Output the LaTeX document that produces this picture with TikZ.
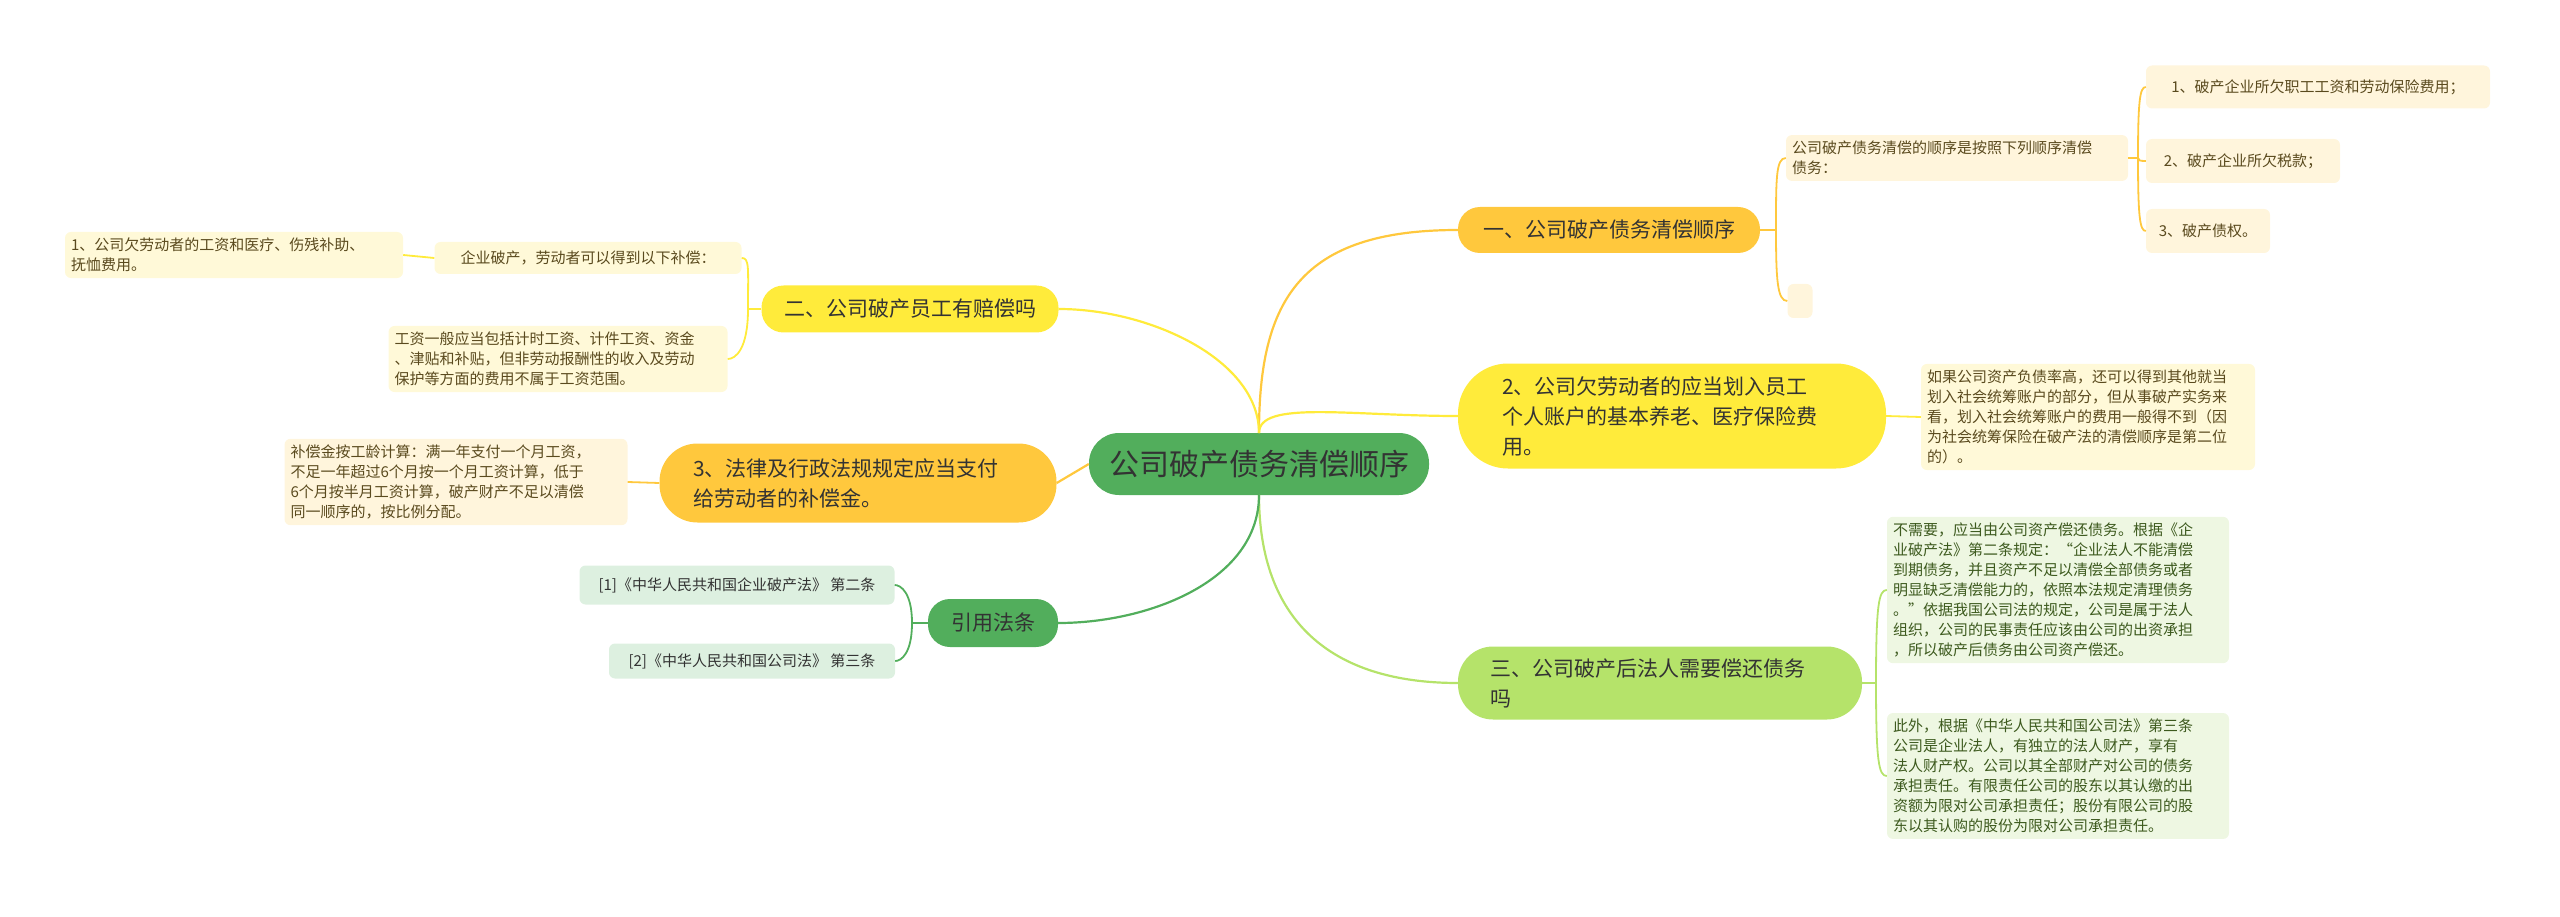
\documentclass[tikz,border=0pt]{standalone}
\usepackage{fontspec}
\setmainfont{Noto Sans CJK SC}
\usetikzlibrary{calc}
\definecolor{cOr}{HTML}{FFC83D}
\definecolor{cYe}{HTML}{FFEB3B}
\definecolor{cLg}{HTML}{B5E36A}
\definecolor{cGr}{HTML}{52AE5C}
\definecolor{fOr}{HTML}{FFF5DC}
\definecolor{fYe}{HTML}{FFF9D8}
\definecolor{fLg}{HTML}{EEF7E2}
\definecolor{fGr}{HTML}{DDF0E0}
\definecolor{tx}{HTML}{333333}
\definecolor{txOr}{HTML}{5A4A1E}
\definecolor{txLg}{HTML}{3D5A1E}
\tikzset{
 mainbox/.style={rounded corners=30pt,fill=cGr,text=tx,font=\fontsize{30}{36}\selectfont,minimum width=340pt,minimum height=62pt,inner sep=0pt},
 brbox/.style={rounded corners=22pt,text=tx,font=\fontsize{21}{30}\selectfont,inner xsep=22pt,inner ysep=6pt,align=left},
 leafbox/.style={rounded corners=6pt,text=txOr,font=\fontsize{15}{20}\selectfont,inner sep=6pt,align=left},
 lk/.style={line width=2.2pt}
}
\begin{document}
\begin{tikzpicture}[x=1pt,y=-1pt]
\useasboundingbox (0,0) rectangle (2560,917);
% center
\node[mainbox] (c) at (1259,464) {公司破产债务清偿顺序};
% branches
\node[brbox,fill=cOr,minimum width=302pt,minimum height=46pt] (b1) at (1609,230) {一、公司破产债务清偿顺序};
\node[brbox,fill=cYe,minimum width=428pt,minimum height=105pt,rounded corners=50pt,text width=340pt,inner xsep=44pt] (b2) at (1672,416) {2、公司欠劳动者的应当划入员工\\个人账户的基本养老、医疗保险费\\用。};
\node[brbox,fill=cLg,minimum width=404pt,minimum height=73pt,rounded corners=35pt,text width=340pt,inner xsep=32pt] (b3) at (1660,683) {三、公司破产后法人需要偿还债务\\吗};
\node[brbox,fill=cYe,minimum width=297pt,minimum height=47pt] (b4) at (910,309) {二、公司破产员工有赔偿吗};
\node[brbox,fill=cOr,minimum width=397pt,minimum height=79pt,rounded corners=38pt,text width=330pt,inner xsep=33pt] (b5) at (858,483) {3、法律及行政法规规定应当支付\\给劳动者的补偿金。};
\node[brbox,fill=cGr,minimum width=130pt,minimum height=48pt,inner xsep=10pt] (b6) at (993,623) {引用法条};
% right leaves
\node[leafbox,fill=fOr,text width=330pt] (l11) at (1957,158) {公司破产债务清偿的顺序是按照下列顺序清偿\\债务：};
\node[leafbox,fill=fOr,minimum width=344pt,minimum height=43pt] (l111) at (2318,87) {1、破产企业所欠职工工资和劳动保险费用；};
\node[leafbox,fill=fOr,minimum width=194pt,minimum height=44pt] (l112) at (2243,161) {2、破产企业所欠税款；};
\node[leafbox,fill=fOr,minimum width=124pt,minimum height=44pt] (l113) at (2208,231) {3、破产债权。};
\node[leafbox,fill=fOr,minimum width=25pt,minimum height=34pt,inner sep=0pt] (l12) at (1800,301) {};
\node[leafbox,fill=fYe,text width=322pt] (l21) at (2088,417) {如果公司资产负债率高，还可以得到其他就当\\划入社会统筹账户的部分，但从事破产实务来\\看，划入社会统筹账户的费用一般得不到（因\\为社会统筹保险在破产法的清偿顺序是第二位\\的）。};
\node[leafbox,fill=fLg,text=txLg,text width=330pt] (l31) at (2058,590) {不需要，应当由公司资产偿还债务。根据《企\\业破产法》第二条规定：“企业法人不能清偿\\到期债务，并且资产不足以清偿全部债务或者\\明显缺乏清偿能力的，依照本法规定清理债务\\。”依据我国公司法的规定，公司是属于法人\\组织，公司的民事责任应该由公司的出资承担\\，所以破产后债务由公司资产偿还。};
\node[leafbox,fill=fLg,text=txLg,text width=330pt] (l32) at (2058,776) {此外，根据《中华人民共和国公司法》第三条\\ 公司是企业法人，有独立的法人财产，享有\\法人财产权。公司以其全部财产对公司的债务\\承担责任。有限责任公司的股东以其认缴的出\\资额为限对公司承担责任；股份有限公司的股\\东以其认购的股份为限对公司承担责任。};
% left leaves
\node[leafbox,fill=fYe,minimum width=307pt,minimum height=32pt] (l41) at (588,258) {企业破产，劳动者可以得到以下补偿：};
\node[leafbox,fill=fYe,text width=326pt] (l411) at (234,255) {1、公司欠劳动者的工资和医疗、伤残补助、\\抚恤费用。};
\node[leafbox,fill=fYe,text width=327pt] (l42) at (558,359) {工资一般应当包括计时工资、计件工资、资金\\、津贴和补贴，但非劳动报酬性的收入及劳动\\保护等方面的费用不属于工资范围。};
\node[leafbox,fill=fOr,text width=331pt] (l51) at (456,482) {补偿金按工龄计算：满一年支付一个月工资，\\不足一年超过6个月按一个月工资计算，低于\\6个月按半月工资计算，破产财产不足以清偿\\同一顺序的，按比例分配。};
\node[leafbox,fill=fGr,text=tx,minimum width=315pt,minimum height=39pt] (l61) at (737,585) {[1]《中华人民共和国企业破产法》 第二条};
\node[leafbox,fill=fGr,text=tx,minimum width=286pt,minimum height=35pt] (l62) at (752,661) {[2]《中华人民共和国公司法》 第三条};
% center links
\coordinate (ct) at (1259,433);
\coordinate (cb) at (1259,495);
\draw[lk,cOr] (ct) .. controls (1259,300) and (1300,230) .. (b1.west);
\draw[lk,cYe] (ct) .. controls (1259,400) and (1350,416) .. (b2.west);
\draw[lk,cLg] (cb) .. controls (1259,620) and (1330,683) .. (b3.west);
\draw[lk,cYe] (ct) .. controls (1259,360) and (1150,309) .. (b4.east);
\draw[lk,cOr] (c.west) -- (b5.east);
\draw[lk,cGr] (cb) .. controls (1259,580) and (1150,623) .. (b6.east);
% branch-to-leaf brackets
\coordinate (j1) at (1776,230);
\draw[lk,cOr,line width=1.8pt] (b1.east) -- (j1);
\foreach \t in {l11,l12} \draw[cOr,line width=1.8pt] (j1) .. controls ($(j1)!0.7!(j1|-\t.west)$) and ($(\t.west)+(-10,0)$) .. (\t.west);
\coordinate (j11) at (2138,158);
\draw[cOr,line width=1.8pt] (l11.east) -- (j11);
\foreach \t in {l111,l112,l113} \draw[cOr,line width=1.8pt] (j11) .. controls ($(j11)!0.8!(j11|-\t.west)$) and ($(\t.west)+(-6,0)$) .. (\t.west);
\draw[cYe,line width=1.8pt] (b2.east) -- (l21.west);
\coordinate (j3) at (1876,683);
\draw[cLg,line width=1.8pt] (b3.east) -- (j3);
\foreach \t in {l31,l32} \draw[cLg,line width=1.8pt] (j3) .. controls ($(j3)!0.85!(j3|-\t.west)$) and ($(\t.west)+(-8,0)$) .. (\t.west);
\coordinate (j4) at (748,309);
\draw[cYe,line width=1.8pt] (b4.west) -- (j4);
\foreach \t in {l41,l42} \draw[cYe,line width=1.8pt] (j4) .. controls ($(j4)!0.8!(j4|-\t.east)$) and ($(\t.east)+(8,0)$) .. (\t.east);
\draw[cYe,line width=1.8pt] (l41.west) -- (l411.east);
\draw[cOr,line width=1.8pt] (b5.west) -- (l51.east);
\coordinate (j6) at (912,623);
\draw[cGr,line width=1.8pt] (b6.west) -- (j6);
\foreach \t in {l61,l62} \draw[cGr,line width=1.8pt] (j6) .. controls ($(j6)!0.8!(j6|-\t.east)$) and ($(\t.east)+(6,0)$) .. (\t.east);
\end{tikzpicture}
\end{document}
